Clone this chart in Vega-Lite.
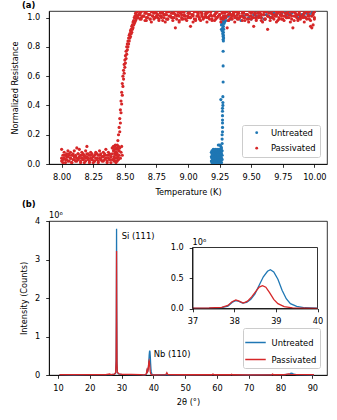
{
"$schema": "https://vega.github.io/schema/vega-lite/v6.json",
"padding": {"left": 10, "top": 0, "right": 5, "bottom": 5},
"config": {
 "font": "DejaVu Sans",
 "view": {"stroke": "#000000", "strokeWidth": 0.8},
 "axis": {"grid": false, "domainColor": "#000000", "domainWidth": 0.8, "tickColor": "#000000", "tickWidth": 0.8, "tickSize": 3.3, "labelColor": "#000000", "labelFontSize": 8.2, "labelPadding": 6, "labelFlush": false, "labelOverlap": false, "titleColor": "#000000", "titleFontSize": 8.2, "titleFontWeight": "normal", "titlePadding": 5},
 "title": {"fontSize": 8.4, "fontWeight": "bold", "anchor": "start", "frame": "group", "dx": -27, "offset": 2, "color": "#000000"}
},
"spacing": 2,
"resolve": {"scale": {"color": "independent"}, "legend": {"color": "independent"}},
"datasets": {
 "a_u": [
{"t":9.185,"r":0.02},{"t":9.185,"r":0.05},{"t":9.185,"r":0.08},
{"t":9.19,"r":0.01},{"t":9.19,"r":0.04},{"t":9.19,"r":0.07},{"t":9.19,"r":0.09},
{"t":9.195,"r":0.03},{"t":9.195,"r":0.06},{"t":9.195,"r":0.0},{"t":9.195,"r":0.08},
{"t":9.2,"r":0.02},{"t":9.2,"r":0.05},{"t":9.2,"r":0.08},{"t":9.2,"r":0.1},
{"t":9.205,"r":0.01},{"t":9.205,"r":0.04},{"t":9.205,"r":0.07},{"t":9.205,"r":0.09},
{"t":9.21,"r":0.03},{"t":9.21,"r":0.06},{"t":9.21,"r":0.0},{"t":9.21,"r":0.08},
{"t":9.215,"r":0.02},{"t":9.215,"r":0.05},{"t":9.215,"r":0.08},{"t":9.215,"r":0.1},
{"t":9.22,"r":0.01},{"t":9.22,"r":0.04},{"t":9.22,"r":0.07},{"t":9.22,"r":0.09},
{"t":9.225,"r":0.03},{"t":9.225,"r":0.06},{"t":9.225,"r":0.0},{"t":9.225,"r":0.08},
{"t":9.23,"r":0.02},{"t":9.23,"r":0.05},{"t":9.23,"r":0.08},{"t":9.23,"r":0.1},
{"t":9.235,"r":0.01},{"t":9.235,"r":0.04},{"t":9.235,"r":0.07},{"t":9.235,"r":0.09},
{"t":9.24,"r":0.03},{"t":9.24,"r":0.06},{"t":9.24,"r":0.0},{"t":9.24,"r":0.08},{"t":9.24,"r":0.13},
{"t":9.245,"r":0.02},{"t":9.245,"r":0.05},{"t":9.245,"r":0.08},{"t":9.245,"r":0.1},
{"t":9.25,"r":0.01},{"t":9.25,"r":0.04},{"t":9.25,"r":0.07},{"t":9.25,"r":0.09},{"t":9.25,"r":0.13},
{"t":9.255,"r":0.03},{"t":9.255,"r":0.06},{"t":9.255,"r":0.0},{"t":9.255,"r":0.08},
{"t":9.26,"r":0.02},{"t":9.26,"r":0.05},{"t":9.26,"r":0.08},{"t":9.26,"r":0.1},{"t":9.26,"r":0.12},
{"t":9.265,"r":0.01},{"t":9.265,"r":0.04},{"t":9.265,"r":0.07},{"t":9.265,"r":0.09},{"t":9.265,"r":0.11},
{"t":9.27,"r":0.03},{"t":9.27,"r":0.06},{"t":9.27,"r":0.09},{"t":9.27,"r":0.14},{"t":9.27,"r":0.17},{"t":9.27,"r":0.2},
{"t":9.273,"r":0.22},{"t":9.273,"r":0.25},{"t":9.273,"r":0.28},{"t":9.273,"r":0.3},{"t":9.273,"r":0.33},{"t":9.273,"r":0.36},{"t":9.273,"r":0.38},
{"t":9.276,"r":0.4},{"t":9.276,"r":0.42},{"t":9.276,"r":0.46},{"t":9.26,"r":0.44},
{"t":9.278,"r":0.56},{"t":9.278,"r":0.67},{"t":9.278,"r":0.77},{"t":9.278,"r":0.85},{"t":9.278,"r":0.87},
{"t":9.28,"r":0.84},{"t":9.28,"r":0.88},{"t":9.28,"r":0.9},{"t":9.282,"r":0.86},{"t":9.282,"r":0.92},
{"t":9.265,"r":0.92},{"t":9.265,"r":0.95},{"t":9.27,"r":0.91},{"t":9.27,"r":0.96},{"t":9.27,"r":0.99},
{"t":9.275,"r":0.89},{"t":9.275,"r":0.93},{"t":9.275,"r":0.97},{"t":9.28,"r":0.94},{"t":9.28,"r":0.98},{"t":9.28,"r":1.0},
{"t":9.285,"r":0.96},{"t":9.285,"r":0.99},{"t":9.29,"r":0.97},{"t":9.29,"r":1.01},{"t":9.3,"r":0.98},{"t":9.3,"r":1.0},
{"t":9.32,"r":1.01},{"t":9.34,"r":0.99},{"t":9.36,"r":1.02},{"t":9.38,"r":1.0},{"t":9.4,"r":1.03},{"t":9.42,"r":0.98},
{"t":9.44,"r":1.01},{"t":9.46,"r":1.02},{"t":9.48,"r":1.0},{"t":9.5,"r":0.99},{"t":9.52,"r":1.02},{"t":9.54,"r":1.01},
{"t":9.56,"r":1.03},{"t":9.58,"r":1.0},{"t":9.6,"r":0.99},{"t":9.62,"r":1.02},{"t":9.64,"r":1.01},{"t":9.66,"r":1.0},
{"t":9.68,"r":1.03},{"t":9.7,"r":1.02},{"t":9.72,"r":1.04},{"t":9.74,"r":1.03},{"t":9.76,"r":1.04},{"t":9.78,"r":1.02},
{"t":9.8,"r":1.04},{"t":9.82,"r":1.03},{"t":9.84,"r":1.04},{"t":9.86,"r":1.01},{"t":9.88,"r":1.0},{"t":9.9,"r":1.02},
{"t":9.92,"r":1.01},{"t":9.94,"r":1.03},{"t":9.96,"r":1.02},{"t":9.98,"r":1.03},{"t":10.0,"r":1.04}
 ],
 "a_p": [
{"t":8.00,"r":0.02},{"t":8.00,"r":0.10},{"t":8.00,"r":0.04},
{"t":8.01,"r":0.06},{"t":8.01,"r":0.03},{"t":8.01,"r":0.01},
{"t":8.02,"r":0.04},{"t":8.02,"r":0.08},{"t":8.02,"r":0.06},
{"t":8.03,"r":0.01},{"t":8.03,"r":0.06},{"t":8.03,"r":0.03},
{"t":8.04,"r":0.07},{"t":8.04,"r":0.03},{"t":8.04,"r":0.05},
{"t":8.05,"r":0.05},{"t":8.05,"r":0.09},{"t":8.05,"r":0.02},
{"t":8.06,"r":0.02},{"t":8.06,"r":0.06},{"t":8.06,"r":0.07},
{"t":8.07,"r":0.04},{"t":8.07,"r":0.08},{"t":8.07,"r":0.04},
{"t":8.08,"r":0.06},{"t":8.08,"r":0.01},{"t":8.08,"r":0.01},
{"t":8.09,"r":0.03},{"t":8.09,"r":0.07},{"t":8.09,"r":0.06},
{"t":8.10,"r":0.05},{"t":8.10,"r":0.09},{"t":8.10,"r":0.03},
{"t":8.11,"r":0.02},{"t":8.11,"r":0.06},{"t":8.11,"r":0.05},
{"t":8.12,"r":0.11},{"t":8.12,"r":0.04},{"t":8.12,"r":0.02},
{"t":8.13,"r":0.07},{"t":8.13,"r":0.03},{"t":8.13,"r":0.07},
{"t":8.14,"r":0.05},{"t":8.14,"r":0.10},{"t":8.14,"r":0.04},
{"t":8.15,"r":0.02},{"t":8.15,"r":0.06},{"t":8.15,"r":0.01},
{"t":8.16,"r":0.08},{"t":8.16,"r":0.04},{"t":8.16,"r":0.06},
{"t":8.17,"r":0.03},{"t":8.17,"r":0.07},{"t":8.17,"r":0.03},
{"t":8.18,"r":0.06},{"t":8.18,"r":0.01},{"t":8.18,"r":0.05},
{"t":8.19,"r":0.04},{"t":8.19,"r":0.09},{"t":8.19,"r":0.02},
{"t":8.20,"r":0.12},{"t":8.20,"r":0.05},{"t":8.20,"r":0.07},
{"t":8.21,"r":0.03},{"t":8.21,"r":0.07},{"t":8.21,"r":0.04},
{"t":8.22,"r":0.06},{"t":8.22,"r":0.02},{"t":8.22,"r":0.01},
{"t":8.23,"r":0.04},{"t":8.23,"r":0.08},{"t":8.23,"r":0.06},
{"t":8.24,"r":0.07},{"t":8.24,"r":0.03},{"t":8.24,"r":0.03},
{"t":8.25,"r":0.05},{"t":8.25,"r":0.01},{"t":8.25,"r":0.05},
{"t":8.26,"r":0.02},{"t":8.26,"r":0.06},{"t":8.26,"r":0.02},
{"t":8.27,"r":0.08},{"t":8.27,"r":0.04},{"t":8.27,"r":0.07},
{"t":8.28,"r":0.03},{"t":8.28,"r":0.07},{"t":8.28,"r":0.04},
{"t":8.29,"r":0.06},{"t":8.29,"r":0.02},{"t":8.29,"r":0.01},
{"t":8.30,"r":0.04},{"t":8.30,"r":0.09},{"t":8.30,"r":0.06},
{"t":8.31,"r":0.07},{"t":8.31,"r":0.03},{"t":8.31,"r":0.03},
{"t":8.32,"r":0.02},{"t":8.32,"r":0.05},{"t":8.32,"r":0.05},
{"t":8.33,"r":0.05},{"t":8.33,"r":0.08},{"t":8.33,"r":0.02},
{"t":8.34,"r":0.03},{"t":8.34,"r":0.06},{"t":8.34,"r":0.07},
{"t":8.35,"r":0.10},{"t":8.35,"r":0.04},{"t":8.35,"r":0.04},
{"t":8.36,"r":0.06},{"t":8.36,"r":0.02},{"t":8.36,"r":0.01},
{"t":8.37,"r":0.04},{"t":8.37,"r":0.08},{"t":8.37,"r":0.06},
{"t":8.38,"r":0.07},{"t":8.38,"r":0.03},{"t":8.38,"r":0.03},
{"t":8.39,"r":0.05},{"t":8.39,"r":0.01},{"t":8.39,"r":0.05},
{"t":8.40,"r":0.03},{"t":8.40,"r":0.07},{"t":8.40,"r":0.11},
{"t":8.410,"r":0.03},{"t":8.410,"r":0.09},{"t":8.410,"r":0.12},
{"t":8.415,"r":0.05},{"t":8.415,"r":0.02},{"t":8.415,"r":0.10},
{"t":8.420,"r":0.07},{"t":8.420,"r":0.12},{"t":8.420,"r":0.04},
{"t":8.425,"r":0.08},{"t":8.425,"r":0.13},{"t":8.425,"r":0.02},
{"t":8.430,"r":0.10},{"t":8.430,"r":0.06},{"t":8.430,"r":0.01},
{"t":8.435,"r":0.11},{"t":8.435,"r":0.04},{"t":8.435,"r":0.08},
{"t":8.440,"r":0.13},{"t":8.440,"r":0.07},{"t":8.440,"r":0.02},
{"t":8.445,"r":0.16},{"t":8.445,"r":0.10},{"t":8.445,"r":0.05},
{"t":8.450,"r":0.20},{"t":8.450,"r":0.12},{"t":8.450,"r":0.03},
{"t":8.455,"r":0.25},{"t":8.455,"r":0.09},{"t":8.455,"r":0.06},
{"t":8.460,"r":0.31},{"t":8.460,"r":0.22},{"t":8.460,"r":0.11},
{"t":8.465,"r":0.37},{"t":8.465,"r":0.28},{"t":8.465,"r":0.04},
{"t":8.470,"r":0.43},{"t":8.470,"r":0.35},{"t":8.470,"r":0.08},
{"t":8.475,"r":0.49},{"t":8.475,"r":0.41},{"t":8.475,"r":0.12},
{"t":8.480,"r":0.55},{"t":8.480,"r":0.47},{"t":8.480,"r":0.06},
{"t":8.485,"r":0.60},{"t":8.485,"r":0.53},
{"t":8.490,"r":0.64},{"t":8.490,"r":0.58},
{"t":8.495,"r":0.68},{"t":8.495,"r":0.62},
{"t":8.500,"r":0.71},{"t":8.500,"r":0.66},
{"t":8.505,"r":0.74},{"t":8.505,"r":0.69},
{"t":8.510,"r":0.77},{"t":8.510,"r":0.72},
{"t":8.515,"r":0.80},{"t":8.515,"r":0.75},
{"t":8.520,"r":0.82},{"t":8.520,"r":0.78},
{"t":8.525,"r":0.84},{"t":8.525,"r":0.80},
{"t":8.530,"r":0.86},{"t":8.530,"r":0.82},
{"t":8.535,"r":0.88},{"t":8.535,"r":0.84},
{"t":8.540,"r":0.89},{"t":8.540,"r":0.86},
{"t":8.545,"r":0.91},{"t":8.545,"r":0.87},
{"t":8.550,"r":0.92},{"t":8.550,"r":0.89},
{"t":8.555,"r":0.94},{"t":8.555,"r":0.90},
{"t":8.560,"r":0.95},{"t":8.560,"r":0.92},
{"t":8.565,"r":0.97},{"t":8.565,"r":0.93},
{"t":8.570,"r":0.98},{"t":8.570,"r":0.95},
{"t":8.575,"r":1.00},{"t":8.575,"r":0.96},
{"t":8.580,"r":1.01},{"t":8.580,"r":0.97},
{"t":8.585,"r":1.03},{"t":8.585,"r":0.98},
{"t":8.590,"r":1.02},{"t":8.590,"r":0.99},
{"t":8.595,"r":1.05},{"t":8.595,"r":1.00},
{"t":8.600,"r":1.04},{"t":8.600,"r":1.01},
{"t":8.605,"r":1.06},{"t":8.605,"r":1.00},
{"t":8.610,"r":1.05},{"t":8.610,"r":1.02},
{"t":8.62,"r":1.03},{"t":8.62,"r":0.99},{"t":8.62,"r":1.02},
{"t":8.63,"r":1.00},{"t":8.63,"r":1.04},{"t":8.63,"r":0.99},
{"t":8.64,"r":1.05},{"t":8.64,"r":1.01},{"t":8.64,"r":1.06},
{"t":8.65,"r":1.01},{"t":8.65,"r":1.06},{"t":8.65,"r":1.01},
{"t":8.66,"r":1.04},{"t":8.66,"r":0.98},{"t":8.66,"r":1.03},
{"t":8.67,"r":0.98},{"t":8.67,"r":1.03},{"t":8.67,"r":1.00},
{"t":8.68,"r":1.06},{"t":8.68,"r":1.00},{"t":8.68,"r":1.05},
{"t":8.69,"r":1.02},{"t":8.69,"r":1.05},{"t":8.69,"r":1.02},
{"t":8.70,"r":0.99},{"t":8.70,"r":1.02},{"t":8.70,"r":0.99},
{"t":8.71,"r":1.04},{"t":8.71,"r":0.97},{"t":8.71,"r":1.06},
{"t":8.72,"r":1.01},{"t":8.72,"r":1.04},{"t":8.72,"r":1.01},
{"t":8.73,"r":1.07},{"t":8.73,"r":0.99},{"t":8.73,"r":1.03},
{"t":8.74,"r":1.00},{"t":8.74,"r":1.04},{"t":8.74,"r":1.00},
{"t":8.75,"r":1.03},{"t":8.75,"r":1.01},{"t":8.75,"r":1.05},
{"t":8.76,"r":1.00},{"t":8.76,"r":1.06},{"t":8.76,"r":1.02},
{"t":8.77,"r":1.05},{"t":8.77,"r":0.98},{"t":8.77,"r":0.99},
{"t":8.78,"r":1.01},{"t":8.78,"r":1.03},{"t":8.78,"r":1.06},
{"t":8.79,"r":1.04},{"t":8.79,"r":1.00},{"t":8.79,"r":1.01},
{"t":8.80,"r":0.98},{"t":8.80,"r":1.05},{"t":8.80,"r":1.03},
{"t":8.81,"r":1.06},{"t":8.81,"r":1.02},{"t":8.81,"r":1.00},
{"t":8.82,"r":1.02},{"t":8.82,"r":0.97},{"t":8.82,"r":1.05},
{"t":8.83,"r":0.99},{"t":8.83,"r":1.04},{"t":8.83,"r":1.02},
{"t":8.84,"r":1.04},{"t":8.84,"r":0.99},{"t":8.84,"r":0.99},
{"t":8.85,"r":1.01},{"t":8.85,"r":1.04},{"t":8.85,"r":1.06},
{"t":8.86,"r":1.07},{"t":8.86,"r":1.01},{"t":8.86,"r":1.01},
{"t":8.87,"r":1.00},{"t":8.87,"r":1.06},{"t":8.87,"r":1.03},
{"t":8.88,"r":1.03},{"t":8.88,"r":0.98},{"t":8.88,"r":1.00},
{"t":8.89,"r":1.00},{"t":8.89,"r":1.03},{"t":8.89,"r":1.05},
{"t":8.90,"r":1.05},{"t":8.90,"r":0.93},{"t":8.90,"r":1.02},
{"t":8.91,"r":1.01},{"t":8.91,"r":1.05},{"t":8.91,"r":0.99},
{"t":8.92,"r":1.04},{"t":8.92,"r":1.02},{"t":8.92,"r":1.06},
{"t":8.93,"r":0.98},{"t":8.93,"r":0.97},{"t":8.93,"r":1.01},
{"t":8.94,"r":1.06},{"t":8.94,"r":1.04},{"t":8.94,"r":1.03},
{"t":8.95,"r":1.02},{"t":8.95,"r":0.99},{"t":8.95,"r":1.00},
{"t":8.96,"r":0.99},{"t":8.96,"r":1.04},{"t":8.96,"r":1.05},
{"t":8.97,"r":1.04},{"t":8.97,"r":1.01},{"t":8.97,"r":1.02},
{"t":8.98,"r":1.01},{"t":8.98,"r":1.06},{"t":8.98,"r":0.99},
{"t":8.99,"r":1.07},{"t":8.99,"r":0.98},{"t":8.99,"r":1.06},
{"t":9.00,"r":1.00},{"t":9.00,"r":1.03},{"t":9.00,"r":1.01},
{"t":9.01,"r":1.03},{"t":9.01,"r":1.00},{"t":9.01,"r":1.03},
{"t":9.02,"r":1.00},{"t":9.02,"r":0.94},{"t":9.02,"r":1.00},
{"t":9.03,"r":1.05},{"t":9.03,"r":1.02},{"t":9.03,"r":1.05},
{"t":9.04,"r":1.01},{"t":9.04,"r":0.97},{"t":9.04,"r":1.02},
{"t":9.05,"r":1.04},{"t":9.05,"r":1.04},{"t":9.05,"r":0.99},
{"t":9.06,"r":0.98},{"t":9.06,"r":0.99},{"t":9.06,"r":1.06},
{"t":9.07,"r":1.06},{"t":9.07,"r":1.04},{"t":9.07,"r":1.01},
{"t":9.08,"r":1.02},{"t":9.08,"r":1.01},{"t":9.08,"r":1.03},
{"t":9.09,"r":0.99},{"t":9.09,"r":1.06},{"t":9.09,"r":1.00},
{"t":9.10,"r":1.04},{"t":9.10,"r":0.98},{"t":9.10,"r":1.05},
{"t":9.11,"r":1.01},{"t":9.11,"r":1.03},{"t":9.11,"r":1.02},
{"t":9.12,"r":1.07},{"t":9.12,"r":1.00},{"t":9.12,"r":0.99},
{"t":9.13,"r":1.00},{"t":9.13,"r":1.05},{"t":9.13,"r":1.06},
{"t":9.14,"r":1.03},{"t":9.14,"r":1.02},{"t":9.14,"r":1.01},
{"t":9.15,"r":1.00},{"t":9.15,"r":0.97},{"t":9.15,"r":1.03},
{"t":9.16,"r":1.05},{"t":9.16,"r":1.04},{"t":9.16,"r":1.00},
{"t":9.17,"r":1.01},{"t":9.17,"r":0.99},{"t":9.17,"r":1.05},
{"t":9.18,"r":1.04},{"t":9.18,"r":1.04},{"t":9.18,"r":1.02},
{"t":9.19,"r":0.98},{"t":9.19,"r":1.01},{"t":9.19,"r":0.99},
{"t":9.20,"r":1.06},{"t":9.20,"r":1.06},{"t":9.20,"r":1.06},
{"t":9.21,"r":1.02},{"t":9.21,"r":0.98},{"t":9.21,"r":1.01},
{"t":9.22,"r":0.99},{"t":9.22,"r":1.03},{"t":9.22,"r":1.03},
{"t":9.23,"r":1.04},{"t":9.23,"r":1.00},{"t":9.23,"r":1.00},
{"t":9.24,"r":1.01},{"t":9.24,"r":1.05},{"t":9.24,"r":1.05},
{"t":9.25,"r":1.07},{"t":9.25,"r":1.02},{"t":9.25,"r":1.02},
{"t":9.26,"r":1.00},{"t":9.26,"r":0.97},{"t":9.26,"r":0.99},
{"t":9.27,"r":1.03},{"t":9.27,"r":1.04},{"t":9.27,"r":1.06},
{"t":9.28,"r":1.00},{"t":9.28,"r":0.99},{"t":9.28,"r":1.01},
{"t":9.29,"r":1.05},{"t":9.29,"r":1.04},{"t":9.29,"r":1.03},
{"t":9.30,"r":1.01},{"t":9.30,"r":1.01},{"t":9.30,"r":1.00},
{"t":9.31,"r":1.04},{"t":9.31,"r":0.93},{"t":9.31,"r":1.05},
{"t":9.32,"r":0.98},{"t":9.32,"r":0.98},{"t":9.32,"r":1.02},
{"t":9.33,"r":1.06},{"t":9.33,"r":1.03},{"t":9.33,"r":0.99},
{"t":9.34,"r":1.02},{"t":9.34,"r":1.00},{"t":9.34,"r":1.06},
{"t":9.35,"r":0.99},{"t":9.35,"r":1.05},{"t":9.35,"r":1.01},
{"t":9.36,"r":1.04},{"t":9.36,"r":1.02},{"t":9.36,"r":1.03},
{"t":9.37,"r":1.01},{"t":9.37,"r":0.97},{"t":9.37,"r":1.00},
{"t":9.38,"r":1.07},{"t":9.38,"r":1.04},{"t":9.38,"r":1.05},
{"t":9.39,"r":1.00},{"t":9.39,"r":0.99},{"t":9.39,"r":1.02},
{"t":9.40,"r":1.03},{"t":9.40,"r":1.04},{"t":9.40,"r":0.99},
{"t":9.41,"r":1.00},{"t":9.41,"r":1.01},{"t":9.41,"r":1.06},
{"t":9.42,"r":1.05},{"t":9.42,"r":1.06},{"t":9.42,"r":1.01},
{"t":9.43,"r":1.01},{"t":9.43,"r":0.98},{"t":9.43,"r":1.03},
{"t":9.44,"r":1.04},{"t":9.44,"r":1.03},{"t":9.44,"r":1.00},
{"t":9.45,"r":0.98},{"t":9.45,"r":1.00},{"t":9.45,"r":1.05},
{"t":9.46,"r":1.06},{"t":9.46,"r":1.05},{"t":9.46,"r":1.02},
{"t":9.47,"r":1.02},{"t":9.47,"r":1.02},{"t":9.47,"r":0.99},
{"t":9.48,"r":0.99},{"t":9.48,"r":0.97},{"t":9.48,"r":1.06},
{"t":9.49,"r":1.04},{"t":9.49,"r":1.04},{"t":9.49,"r":1.01},
{"t":9.50,"r":1.01},{"t":9.50,"r":0.99},{"t":9.50,"r":1.03},
{"t":9.51,"r":1.07},{"t":9.51,"r":1.04},{"t":9.51,"r":1.00},
{"t":9.52,"r":1.00},{"t":9.52,"r":0.94},{"t":9.52,"r":1.05},
{"t":9.53,"r":1.03},{"t":9.53,"r":1.06},{"t":9.53,"r":1.02},
{"t":9.54,"r":1.00},{"t":9.54,"r":0.98},{"t":9.54,"r":0.99},
{"t":9.55,"r":1.05},{"t":9.55,"r":1.03},{"t":9.55,"r":1.06},
{"t":9.56,"r":1.01},{"t":9.56,"r":1.00},{"t":9.56,"r":1.01},
{"t":9.57,"r":1.04},{"t":9.57,"r":1.05},{"t":9.57,"r":1.03},
{"t":9.58,"r":0.98},{"t":9.58,"r":1.02},{"t":9.58,"r":1.00},
{"t":9.59,"r":1.06},{"t":9.59,"r":0.97},{"t":9.59,"r":1.05},
{"t":9.60,"r":1.02},{"t":9.60,"r":1.04},{"t":9.60,"r":1.02},
{"t":9.61,"r":0.99},{"t":9.61,"r":0.99},{"t":9.61,"r":0.99},
{"t":9.62,"r":1.04},{"t":9.62,"r":1.04},{"t":9.62,"r":1.06},
{"t":9.63,"r":1.01},{"t":9.63,"r":0.92},{"t":9.63,"r":1.01},
{"t":9.64,"r":1.07},{"t":9.64,"r":1.06},{"t":9.64,"r":1.03},
{"t":9.65,"r":1.00},{"t":9.65,"r":0.98},{"t":9.65,"r":1.00},
{"t":9.66,"r":1.03},{"t":9.66,"r":1.03},{"t":9.66,"r":1.05},
{"t":9.67,"r":1.00},{"t":9.67,"r":1.00},{"t":9.67,"r":1.02},
{"t":9.68,"r":1.05},{"t":9.68,"r":1.05},{"t":9.68,"r":0.99},
{"t":9.69,"r":1.01},{"t":9.69,"r":1.02},{"t":9.69,"r":1.06},
{"t":9.70,"r":1.04},{"t":9.70,"r":0.97},{"t":9.70,"r":1.01},
{"t":9.71,"r":0.98},{"t":9.71,"r":1.04},{"t":9.71,"r":1.03},
{"t":9.72,"r":1.06},{"t":9.72,"r":0.99},{"t":9.72,"r":1.00},
{"t":9.73,"r":1.02},{"t":9.73,"r":1.04},{"t":9.73,"r":1.05},
{"t":9.74,"r":0.99},{"t":9.74,"r":1.01},{"t":9.74,"r":1.02},
{"t":9.75,"r":1.04},{"t":9.75,"r":1.06},{"t":9.75,"r":0.99},
{"t":9.76,"r":1.01},{"t":9.76,"r":0.98},{"t":9.76,"r":1.06},
{"t":9.77,"r":1.07},{"t":9.77,"r":1.03},{"t":9.77,"r":1.01},
{"t":9.78,"r":1.00},{"t":9.78,"r":1.00},{"t":9.78,"r":1.03},
{"t":9.79,"r":1.03},{"t":9.79,"r":1.05},{"t":9.79,"r":1.00},
{"t":9.80,"r":1.00},{"t":9.80,"r":1.02},{"t":9.80,"r":1.05},
{"t":9.81,"r":1.05},{"t":9.81,"r":0.97},{"t":9.81,"r":1.02},
{"t":9.82,"r":1.01},{"t":9.82,"r":1.04},{"t":9.82,"r":0.99},
{"t":9.83,"r":1.04},{"t":9.83,"r":0.93},{"t":9.83,"r":1.06},
{"t":9.84,"r":0.98},{"t":9.84,"r":1.04},{"t":9.84,"r":1.01},
{"t":9.85,"r":1.06},{"t":9.85,"r":1.01},{"t":9.85,"r":1.03},
{"t":9.86,"r":1.02},{"t":9.86,"r":1.06},{"t":9.86,"r":1.00},
{"t":9.87,"r":0.99},{"t":9.87,"r":0.98},{"t":9.87,"r":1.05},
{"t":9.88,"r":1.04},{"t":9.88,"r":1.03},{"t":9.88,"r":1.02},
{"t":9.89,"r":1.01},{"t":9.89,"r":1.00},{"t":9.89,"r":0.99},
{"t":9.90,"r":1.07},{"t":9.90,"r":1.05},{"t":9.90,"r":1.06},
{"t":9.91,"r":1.00},{"t":9.91,"r":1.02},{"t":9.91,"r":1.01},
{"t":9.92,"r":1.03},{"t":9.92,"r":0.97},{"t":9.92,"r":1.03},
{"t":9.93,"r":1.00},{"t":9.93,"r":1.04},{"t":9.93,"r":1.00},
{"t":9.94,"r":1.05},{"t":9.94,"r":0.99},{"t":9.94,"r":1.05},
{"t":9.95,"r":1.01},{"t":9.95,"r":1.04},{"t":9.95,"r":1.02},
{"t":9.96,"r":1.04},{"t":9.96,"r":1.01},{"t":9.96,"r":0.99},
{"t":9.97,"r":0.98},{"t":9.97,"r":0.94},{"t":9.97,"r":1.06},
{"t":9.98,"r":1.06},{"t":9.98,"r":0.93},{"t":9.98,"r":1.01},
{"t":9.99,"r":1.02},{"t":9.99,"r":0.95},{"t":9.99,"r":1.03},
{"t":10.00,"r":0.99},{"t":10.00,"r":1.04},{"t":10.00,"r":1.00}
 ],
 "b_u": [
{"x":10.5,"y":0.008},{"x":15,"y":0.007},{"x":20,"y":0.008},{"x":25,"y":0.01},{"x":27,"y":0.012},{"x":27.8,"y":0.02},
{"x":28.15,"y":0.05},{"x":28.3,"y":0.4},{"x":28.37,"y":1.6},{"x":28.44,"y":3.8},{"x":28.5,"y":1.8},{"x":28.58,"y":0.35},
{"x":28.7,"y":0.06},{"x":29.2,"y":0.025},{"x":30,"y":0.018},{"x":33,"y":0.012},{"x":36,"y":0.008},
{"x":37.0,"y":0.003},{"x":37.4,"y":0.006},{"x":37.7,"y":0.015},{"x":37.85,"y":0.04},{"x":37.95,"y":0.10},{"x":38.03,"y":0.13},
{"x":38.1,"y":0.12},{"x":38.2,"y":0.09},{"x":38.3,"y":0.10},{"x":38.4,"y":0.15},{"x":38.5,"y":0.24},{"x":38.6,"y":0.38},
{"x":38.7,"y":0.52},{"x":38.8,"y":0.61},{"x":38.87,"y":0.635},{"x":38.95,"y":0.60},{"x":39.05,"y":0.48},{"x":39.15,"y":0.30},
{"x":39.25,"y":0.16},{"x":39.35,"y":0.08},{"x":39.5,"y":0.035},{"x":39.7,"y":0.012},{"x":40.0,"y":0.004},
{"x":41,"y":0.005},{"x":44,"y":0.006},{"x":44.3,"y":0.012},{"x":44.6,"y":0.006},{"x":50,"y":0.005},{"x":58.6,"y":0.008},
{"x":64.5,"y":0.008},{"x":70,"y":0.005},{"x":77.5,"y":0.01},{"x":81,"y":0.012},{"x":82.8,"y":0.025},{"x":83.3,"y":0.05},
{"x":83.7,"y":0.045},{"x":84.1,"y":0.02},{"x":85,"y":0.01},{"x":90.5,"y":0.006}
 ],
 "b_p": [
{"x":10.5,"y":0.01},{"x":15,"y":0.009},{"x":20,"y":0.01},{"x":25,"y":0.012},{"x":26.3,"y":0.025},{"x":26.6,"y":0.012},
{"x":27.8,"y":0.025},{"x":28.15,"y":0.06},{"x":28.3,"y":0.35},{"x":28.37,"y":1.4},{"x":28.44,"y":3.22},{"x":28.5,"y":1.5},
{"x":28.58,"y":0.3},{"x":28.7,"y":0.07},{"x":29.2,"y":0.03},{"x":30,"y":0.02},{"x":33,"y":0.015},{"x":36,"y":0.01},
{"x":37.0,"y":0.005},{"x":37.4,"y":0.008},{"x":37.7,"y":0.02},{"x":37.85,"y":0.05},{"x":37.95,"y":0.11},{"x":38.04,"y":0.14},
{"x":38.12,"y":0.12},{"x":38.22,"y":0.09},{"x":38.32,"y":0.12},{"x":38.42,"y":0.19},{"x":38.52,"y":0.28},{"x":38.6,"y":0.35},
{"x":38.68,"y":0.375},{"x":38.76,"y":0.35},{"x":38.85,"y":0.26},{"x":38.95,"y":0.15},{"x":39.05,"y":0.08},{"x":39.2,"y":0.03},
{"x":39.4,"y":0.01},{"x":39.7,"y":0.004},{"x":40.0,"y":0.002},
{"x":41,"y":0.005},{"x":43.9,"y":0.008},{"x":44.25,"y":0.06},{"x":44.6,"y":0.008},{"x":50,"y":0.006},{"x":58.4,"y":0.006},
{"x":58.75,"y":0.025},{"x":59.1,"y":0.006},{"x":64.3,"y":0.006},{"x":64.6,"y":0.02},{"x":64.9,"y":0.006},{"x":70,"y":0.005},
{"x":77.2,"y":0.006},{"x":77.5,"y":0.025},{"x":77.8,"y":0.006},{"x":81.5,"y":0.012},{"x":82.5,"y":0.03},{"x":83,"y":0.015},
{"x":90.5,"y":0.008}
 ]
},
"vconcat": [
 {
  "title": {"text": "(a)"},
  "width": 278, "height": 153,
  "layer": [
   {"data": {"name": "a_u"},
    "mark": {"type": "point", "filled": true, "size": 10, "opacity": 1, "clip": true},
    "encoding": {
     "x": {"field": "t", "type": "quantitative", "scale": {"domain": [7.9, 10.1], "nice": false, "zero": false},
           "axis": {"values": [8, 8.25, 8.5, 8.75, 9, 9.25, 9.5, 9.75, 10], "tickCount": 30, "format": ".2f", "title": "Temperature (K)", "titlePadding": 8, "labelOverlap": false}},
     "y": {"field": "r", "type": "quantitative", "scale": {"domain": [0, 1.045], "nice": false},
           "axis": {"values": [0, 0.2, 0.4, 0.6, 0.8, 1.0], "tickCount": 30, "format": ".1f", "title": "Normalized Resistance", "titlePadding": 7, "labelOverlap": false}},
     "color": {"datum": "Untreated", "type": "nominal",
               "scale": {"domain": ["Untreated", "Passivated"], "range": ["#1f77b4", "#d62728"]},
               "legend": {"title": null, "orient": "bottom-right", "offset": 7, "strokeColor": "#cccccc", "fillColor": "#ffffff",
                          "padding": 3.5, "cornerRadius": 2, "labelFontSize": 8.4, "labelColor": "#000000",
                          "symbolType": "circle", "symbolSize": 8, "symbolOffset": 7, "labelOffset": 10, "rowPadding": 6.5}}
    }},
   {"data": {"name": "a_p"},
    "mark": {"type": "point", "filled": true, "size": 10, "opacity": 1, "clip": true},
    "encoding": {
     "x": {"field": "t", "type": "quantitative"},
     "y": {"field": "r", "type": "quantitative"},
     "color": {"datum": "Passivated", "type": "nominal"}
    }}
  ]
 },
 {
  "title": {"text": "(b)"},
  "width": 278, "height": 154,
  "layer": [
   {"layer": [
     {"data": {"name": "b_u"},
      "mark": {"type": "line", "strokeWidth": 1.3},
      "encoding": {
       "x": {"field": "x", "type": "quantitative", "scale": {"domain": [7.2, 94.6], "nice": false, "zero": false},
             "axis": {"values": [10, 20, 30, 40, 50, 60, 70, 80, 90], "tickCount": 30, "format": "d", "title": "2θ (°)", "titlePadding": 7, "labelOverlap": false}},
       "y": {"field": "y", "type": "quantitative", "scale": {"domain": [0, 4], "nice": false},
             "axis": {"values": [0, 1, 2, 3, 4], "tickCount": 30, "format": "d", "title": "Intensity (Counts)", "titlePadding": 6, "labelOverlap": false}},
       "color": {"datum": "Untreated", "type": "nominal",
                 "scale": {"domain": ["Untreated", "Passivated"], "range": ["#1f77b4", "#d62728"]},
                 "legend": {"title": null, "orient": "bottom-right", "offset": 7, "strokeColor": "#cccccc", "fillColor": "#ffffff",
                            "padding": 3.5, "cornerRadius": 2, "labelFontSize": 8.4, "labelColor": "#000000",
                            "symbolType": "stroke", "symbolSize": 420, "symbolStrokeWidth": 1.5, "symbolOffset": -2, "labelOffset": 5, "rowPadding": 1}}
      }},
     {"data": {"name": "b_p"},
      "mark": {"type": "line", "strokeWidth": 1.3},
      "encoding": {
       "x": {"field": "x", "type": "quantitative"},
       "y": {"field": "y", "type": "quantitative"},
       "color": {"datum": "Passivated", "type": "nominal"}
      }},
     {"data": {"values": [{"x": 30.05, "y": 3.62, "label": "Si (111)"}, {"x": 40.1, "y": 0.557, "label": "Nb (110)"}]},
      "mark": {"type": "text", "align": "left", "baseline": "middle", "fontSize": 8.4, "color": "#000000"},
      "encoding": {"x": {"field": "x", "type": "quantitative"}, "y": {"field": "y", "type": "quantitative"}, "text": {"field": "label"}}},
     {"data": {"values": [{"x": 7.2, "y": 4, "label": "10⁶"}]},
      "mark": {"type": "text", "align": "left", "baseline": "alphabetic", "dy": -3.5, "fontSize": 8.2, "color": "#000000"},
      "encoding": {"x": {"field": "x", "type": "quantitative"}, "y": {"field": "y", "type": "quantitative"}, "text": {"field": "label"}}}
   ]},
   {"layer": [
     {"data": {"values": [{"x": 37, "x2": 40, "y": 0, "y2": 1}]},
      "mark": {"type": "rect", "fill": "#ffffff", "stroke": "#000000", "strokeWidth": 0.8},
      "encoding": {
       "x": {"field": "x", "type": "quantitative", "scale": {"domain": [37, 40], "range": [143.5, 268.5], "nice": false, "zero": false},
             "axis": {"orient": "bottom", "offset": -66.5, "values": [37, 38, 39, 40], "tickCount": 30, "format": "d", "title": null, "zindex": 1, "labelOverlap": false}},
       "x2": {"field": "x2"},
       "y": {"field": "y", "type": "quantitative", "scale": {"domain": [0, 1], "range": [87.5, 26.5], "nice": false},
             "axis": {"orient": "left", "offset": -143.5, "values": [0, 0.5, 1], "tickCount": 30, "format": ".1f", "title": null, "zindex": 1, "labelOverlap": false}},
       "y2": {"field": "y2"}
      }},
     {"data": {"name": "b_u"},
      "transform": [{"filter": "datum.x >= 37 && datum.x <= 40"}],
      "mark": {"type": "line", "strokeWidth": 1.3},
      "encoding": {"x": {"field": "x", "type": "quantitative"}, "y": {"field": "y", "type": "quantitative"}, "color": {"datum": "Untreated", "type": "nominal"}}},
     {"data": {"name": "b_p"},
      "transform": [{"filter": "datum.x >= 37 && datum.x <= 40"}],
      "mark": {"type": "line", "strokeWidth": 1.3},
      "encoding": {"x": {"field": "x", "type": "quantitative"}, "y": {"field": "y", "type": "quantitative"}, "color": {"datum": "Passivated", "type": "nominal"}}},
     {"data": {"values": [{"x": 37, "y": 1, "label": "10⁶"}]},
      "mark": {"type": "text", "align": "left", "baseline": "alphabetic", "dy": -3, "fontSize": 8.2, "color": "#000000"},
      "encoding": {"x": {"field": "x", "type": "quantitative"}, "y": {"field": "y", "type": "quantitative"}, "text": {"field": "label"}}}
   ]}
  ],
  "resolve": {"scale": {"x": "independent", "y": "independent"}}
 }
]
}
